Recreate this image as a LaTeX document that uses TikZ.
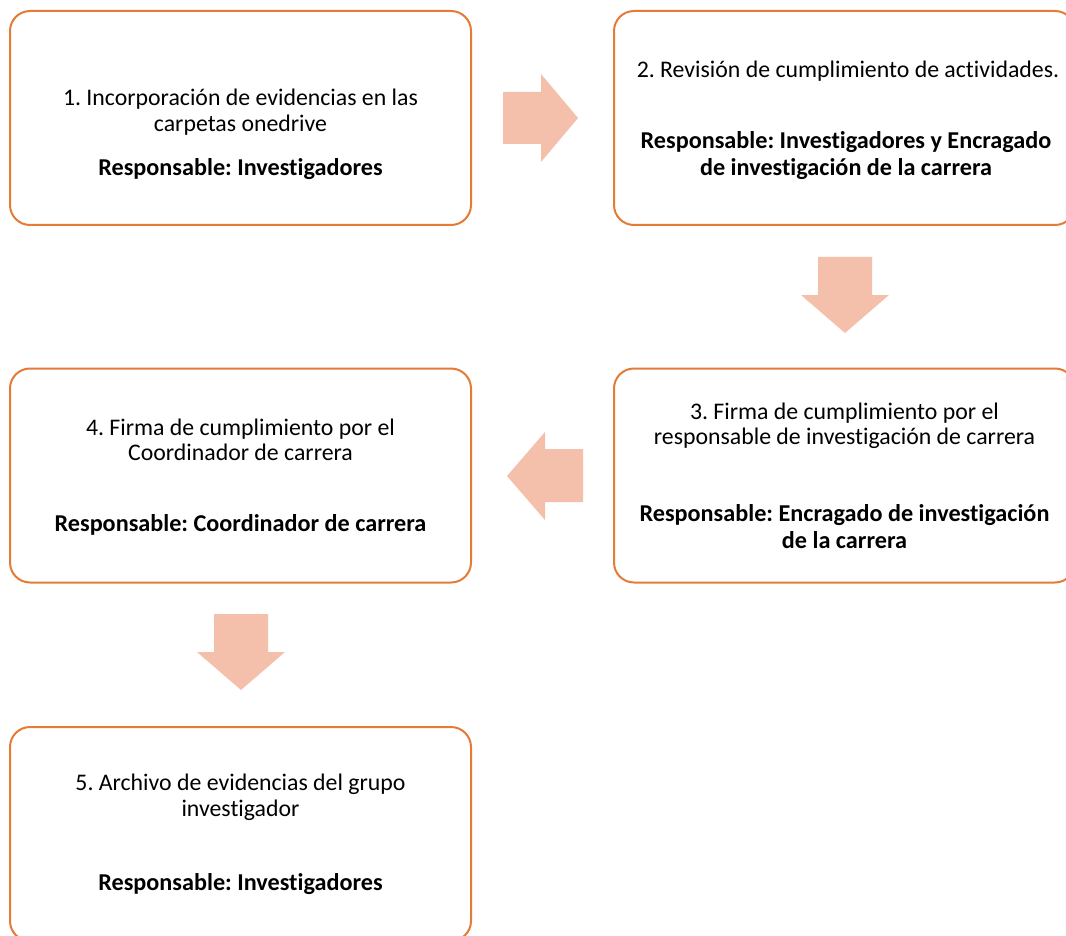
\documentclass[tikz,border=0pt]{standalone}
\usepackage{fontspec}
\setmainfont{Carlito}[Ligatures=NoCommon]
\frenchspacing
\definecolor{boxorange}{HTML}{E57B36}
\definecolor{arrowfill}{HTML}{F4C0AC}
\begin{document}
\begin{tikzpicture}[x=1pt,y=-1pt,
  box/.style={draw=boxorange, line width=2pt, rounded corners=20pt, minimum width=461pt, minimum height=214pt, inner sep=0pt},
  txt/.style={align=center, font=\fontsize{23.8}{25.5}\selectfont, inner sep=0pt},
  btxt/.style={align=center, font=\fontsize{24.2}{27}\selectfont\bfseries, inner sep=0pt},
  blockarrow/.style={fill=arrowfill, draw=none}]
\clip (0,0) rectangle (1066,936);
\fill[white] (0,0) rectangle (1066,936);
% boxes
\node[box] (b1) at (240.5,118) {};
\node[box] (b2) at (844.5,118) {};
\node[box] (b3) at (844.5,475.5) {};
\node[box] (b4) at (240.5,475.5) {};
\node[box] (b5) at (240.5,834) {};
% texts
\node[txt] (t1) at (240.5,112) {\frenchspacing 1. Incorporación de evidencias en las\\carpetas onedrive};
\node[btxt] (r1) at (240.5,169) {Responsable: Investigadores};
\node[txt] (t2) at (848,71) {\frenchspacing 2. Revisión de cumplimiento de actividades.};
\node[btxt] (r2) at (846,155.5) {Responsable: Investigadores y Encragado\\de investigación de la carrera};
\node[txt] (t3) at (844.5,426) {\frenchspacing 3. Firma de cumplimiento por el\\responsable de investigación de carrera};
\node[btxt] (r3) at (844.5,526.5) {Responsable: Encragado de investigación\\de la carrera};
\node[txt] (t4) at (240.5,440) {\frenchspacing 4. Firma de cumplimiento por el\\Coordinador de carrera};
\node[btxt] (r4) at (240.5,525) {Responsable: Coordinador de carrera};
\node[txt] (t5) at (240.5,797.5) {\frenchspacing 5. Archivo de evidencias del grupo\\investigador};
\node[btxt] (r5) at (240.5,884) {Responsable: Investigadores};
% block arrows
\fill[blockarrow] (503,92) -- (541,92) -- (541,74) -- (578,118) -- (541,162) -- (541,144) -- (503,144) -- cycle;
\fill[blockarrow] (818,257) -- (872,257) -- (872,295) -- (889,295) -- (845,333) -- (801,295) -- (818,295) -- cycle;
\fill[blockarrow] (583,449) -- (545,449) -- (545,432) -- (507,476) -- (545,520) -- (545,502) -- (583,502) -- cycle;
\fill[blockarrow] (214,614) -- (268,614) -- (268,652) -- (285,652) -- (241,690) -- (197,652) -- (214,652) -- cycle;
\end{tikzpicture}
\end{document}
